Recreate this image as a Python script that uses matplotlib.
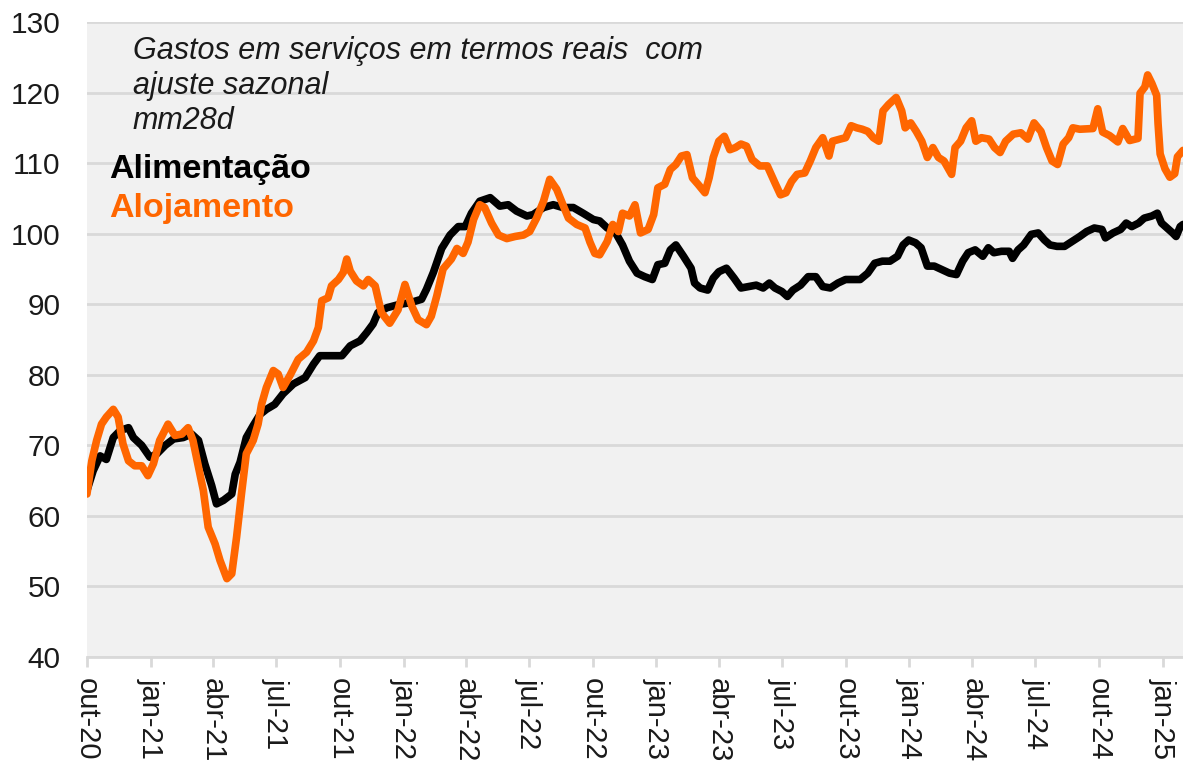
import pandas as pd
import matplotlib.pyplot as plt

START = pd.Timestamp("2020-10-01")

# dias desde 01/10/2020 e índice (mm28d)
dias_alim = [0, 9, 19, 28, 38, 48, 60, 67, 79, 91, 101, 113, 125, 139, 151, 161, 170, 180,
             187, 197, 209, 214, 221, 230, 240, 250, 259, 271, 283, 298, 315, 327, 336, 351,
             368, 380, 394, 404, 413, 420, 433, 452, 466, 483, 490, 500, 512, 524, 536, 546,
             555, 567, 582, 596, 608, 620, 635, 644, 659, 673, 687, 702, 716, 731, 740, 751,
             762, 773, 783, 794, 805, 816, 824, 834, 842, 850, 861, 872, 877, 885, 896, 904,
             912, 923, 934, 944, 955, 966, 976, 985, 993, 1003, 1011, 1019, 1030, 1041, 1052,
             1062, 1073, 1084, 1095, 1105, 1116, 1127, 1137, 1148, 1159, 1170, 1178, 1186,
             1196, 1204, 1213, 1223, 1234, 1245, 1255, 1264, 1272, 1282, 1293, 1301, 1309,
             1320, 1331, 1336, 1344, 1352, 1363, 1373, 1382, 1390, 1400, 1411, 1422, 1433,
             1443, 1454, 1465, 1470, 1481, 1492, 1500, 1508, 1518, 1526, 1537, 1545, 1551,
             1559, 1567, 1572, 1578, 1582]
alimentacao = [63.6, 66.4, 68.5, 68.0, 71.1, 72.1, 72.5, 71.1, 70.0, 68.3, 68.8, 70.0, 70.9,
               71.1, 71.6, 70.7, 67.4, 64.3, 61.7, 62.2, 63.1, 65.9, 67.6, 71.1, 72.8, 74.4,
               75.1, 75.8, 77.3, 78.7, 79.6, 81.5, 82.7, 82.7, 82.7, 84.1, 84.8, 86.0, 87.2,
               88.8, 89.5, 90.0, 90.2, 90.7, 92.1, 94.5, 97.9, 99.8, 101.0, 101.0, 102.9, 104.6,
               105.1, 103.9, 104.1, 103.2, 102.5, 102.7, 103.7, 104.1, 103.7, 103.7, 102.9,
               102.0, 101.8, 100.8, 100.3, 98.4, 96.1, 94.4, 93.9, 93.5, 95.6, 95.8, 97.7, 98.4,
               96.8, 95.1, 93.0, 92.3, 92.0, 93.7, 94.6, 95.1, 93.7, 92.3, 92.5, 92.7, 92.3,
               93.0, 92.3, 91.8, 91.1, 92.0, 92.7, 93.9, 93.9, 92.5, 92.3, 93.0, 93.5, 93.5,
               93.5, 94.4, 95.8, 96.1, 96.1, 96.8, 98.4, 99.1, 98.7, 98.0, 95.4, 95.4, 94.9,
               94.4, 94.2, 96.1, 97.3, 97.7, 96.8, 98.0, 97.3, 97.5, 97.5, 96.5, 97.7, 98.4,
               99.9, 100.1, 99.1, 98.4, 98.2, 98.2, 98.9, 99.6, 100.3, 100.8, 100.6, 99.4,
               100.1, 100.6, 101.5, 101.0, 101.5, 102.2, 102.5, 102.9, 101.5, 100.8, 100.1,
               99.6, 101.0, 101.3]

dias_aloj = [0, 7, 14, 21, 28, 38, 45, 52, 60, 69, 79, 88, 96, 105, 117, 127, 137, 146, 153,
             161, 168, 175, 185, 192, 202, 209, 216, 223, 230, 240, 247, 252, 259, 269, 276,
             283, 293, 305, 317, 327, 334, 339, 348, 353, 363, 370, 375, 380, 389, 399, 406,
             416, 425, 437, 449, 459, 469, 478, 490, 497, 505, 514, 526, 534, 543, 550, 558,
             567, 574, 584, 594, 606, 618, 630, 639, 649, 659, 668, 678, 687, 695, 707, 719,
             726, 733, 740, 751, 759, 767, 773, 783, 791, 799, 810, 818, 824, 834, 842, 850,
             858, 866, 874, 882, 892, 898, 904, 912, 920, 928, 936, 944, 952, 960, 971, 982,
             993, 1001, 1009, 1017, 1025, 1036, 1044, 1052, 1062, 1071, 1076, 1087, 1095,
             1103, 1111, 1119, 1127, 1135, 1143, 1149, 1157, 1168, 1176, 1181, 1189, 1197,
             1205, 1213, 1221, 1229, 1237, 1248, 1253, 1261, 1269, 1277, 1283, 1291, 1302,
             1310, 1318, 1326, 1337, 1348, 1358, 1367, 1377, 1385, 1393, 1401, 1409, 1417,
             1423, 1433, 1452, 1459, 1466, 1476, 1488, 1495, 1505, 1517, 1520, 1527, 1531,
             1537, 1544, 1546, 1549, 1556, 1563, 1570, 1574, 1582]
alojamento = [63.1, 67.8, 70.7, 73.0, 74.0, 75.1, 74.0, 70.2, 67.8, 67.1, 67.1, 65.7, 67.4,
              70.7, 73.0, 71.4, 71.6, 72.5, 70.7, 66.9, 63.6, 58.4, 56.0, 53.7, 51.1, 51.8,
              57.0, 63.1, 68.8, 70.7, 73.0, 75.8, 78.2, 80.6, 80.1, 78.2, 79.9, 82.2, 83.2,
              84.8, 86.7, 90.5, 90.9, 92.6, 93.5, 94.5, 96.4, 94.7, 93.3, 92.6, 93.5, 92.6,
              88.8, 87.3, 89.2, 92.8, 89.7, 87.8, 87.1, 88.3, 91.2, 95.0, 96.4, 97.9, 97.2,
              98.8, 102.0, 104.1, 103.7, 101.5, 99.8, 99.3, 99.6, 99.8, 100.3, 102.2, 104.6,
              107.7, 106.3, 104.1, 102.2, 101.3, 100.8, 98.8, 97.2, 97.0, 98.9, 101.3, 100.3,
              102.9, 102.5, 104.1, 100.1, 100.6, 102.7, 106.5, 107.0, 109.1, 109.8, 111.0,
              111.2, 107.9, 107.0, 105.8, 107.9, 110.8, 113.1, 113.8, 111.9, 112.2, 112.7,
              112.4, 110.5, 109.6, 109.6, 107.2, 105.5, 105.8, 107.4, 108.4, 108.6, 110.3,
              112.2, 113.6, 111.0, 113.1, 113.4, 113.6, 115.3, 115.0, 114.8, 114.5, 113.6,
              113.1, 117.4, 118.3, 119.3, 117.4, 115.0, 115.7, 114.5, 113.1, 110.8, 112.2,
              110.8, 110.3, 108.4, 112.2, 113.1, 115.0, 116.0, 113.1, 113.6, 113.4, 112.2,
              111.5, 113.1, 114.1, 114.3, 113.4, 115.7, 114.5, 112.2, 110.3, 109.8, 112.7,
              113.6, 115.0, 114.8, 114.9, 117.7, 114.4, 113.9, 113.0, 114.9, 113.2, 113.5,
              119.9, 120.8, 122.5, 121.3, 119.6, 115.6, 111.3, 109.2, 108.0, 108.5, 110.9,
              111.8]

tick_datas = ["2020-10-01", "2021-01-01", "2021-04-01", "2021-07-01", "2021-10-01",
              "2022-01-01", "2022-04-01", "2022-07-01", "2022-10-01", "2023-01-01",
              "2023-04-01", "2023-07-01", "2023-10-01", "2024-01-01", "2024-04-01",
              "2024-07-01", "2024-10-01", "2025-01-01"]
tick_labels = ["out-20", "jan-21", "abr-21", "jul-21", "out-21", "jan-22", "abr-22",
               "jul-22", "out-22", "jan-23", "abr-23", "jul-23", "out-23", "jan-24",
               "abr-24", "jul-24", "out-24", "jan-25"]

LARANJA = "#ff6600"
CINZA = "#d9d9d9"

if __name__ == "__main__":
    plt.rcParams["font.family"] = ["Liberation Sans", "DejaVu Sans"]

    x_alim = START + pd.to_timedelta(dias_alim, unit="D")
    x_aloj = START + pd.to_timedelta(dias_aloj, unit="D")

    fig = plt.figure(figsize=(11.83, 7.61), dpi=100)
    ax = fig.add_axes([0.0735, 0.1367, 0.9265, 0.8344])
    ax.set_facecolor("#f1f1f1")

    ax.plot(x_alim, alimentacao, color="black", lw=5.5,
            solid_capstyle="round", solid_joinstyle="round", zorder=3)
    ax.plot(x_aloj, alojamento, color=LARANJA, lw=5.5,
            solid_capstyle="round", solid_joinstyle="round", zorder=4)

    ax.set_ylim(40, 130)
    ax.set_yticks(range(40, 131, 10))
    ax.set_xlim(START, x_aloj[-1])
    ax.set_xticks(pd.to_datetime(tick_datas))
    ax.set_xticklabels(tick_labels, rotation=-90, va="top", ha="center")

    ax.grid(axis="y", color=CINZA, lw=2)
    ax.set_axisbelow(True)
    for side in ("top", "right", "left"):
        ax.spines[side].set_visible(False)
    ax.spines["bottom"].set_color(CINZA)
    ax.spines["bottom"].set_linewidth(2)

    ax.tick_params(axis="y", length=0, pad=19, labelsize=21.5, labelcolor="#1a1a1a")
    ax.tick_params(axis="x", length=7, width=2, color=CINZA, pad=8,
                   labelsize=21, labelcolor="#1a1a1a")

    ax.text(0.042, 0.978, "Gastos em serviços em termos reais  com\najuste sazonal\nmm28d",
            transform=ax.transAxes, fontsize=22, style="italic", color="#1a1a1a",
            va="top", ha="left", linespacing=1.22)
    ax.text(0.020, 0.7543, "Alimentação", transform=ax.transAxes, fontsize=24.5,
            fontweight="bold", color="black", va="baseline", ha="left")
    ax.text(0.020, 0.6929, "Alojamento", transform=ax.transAxes, fontsize=24.5,
            fontweight="bold", color=LARANJA, va="baseline", ha="left")

    fig.savefig("out.png", dpi=100)
